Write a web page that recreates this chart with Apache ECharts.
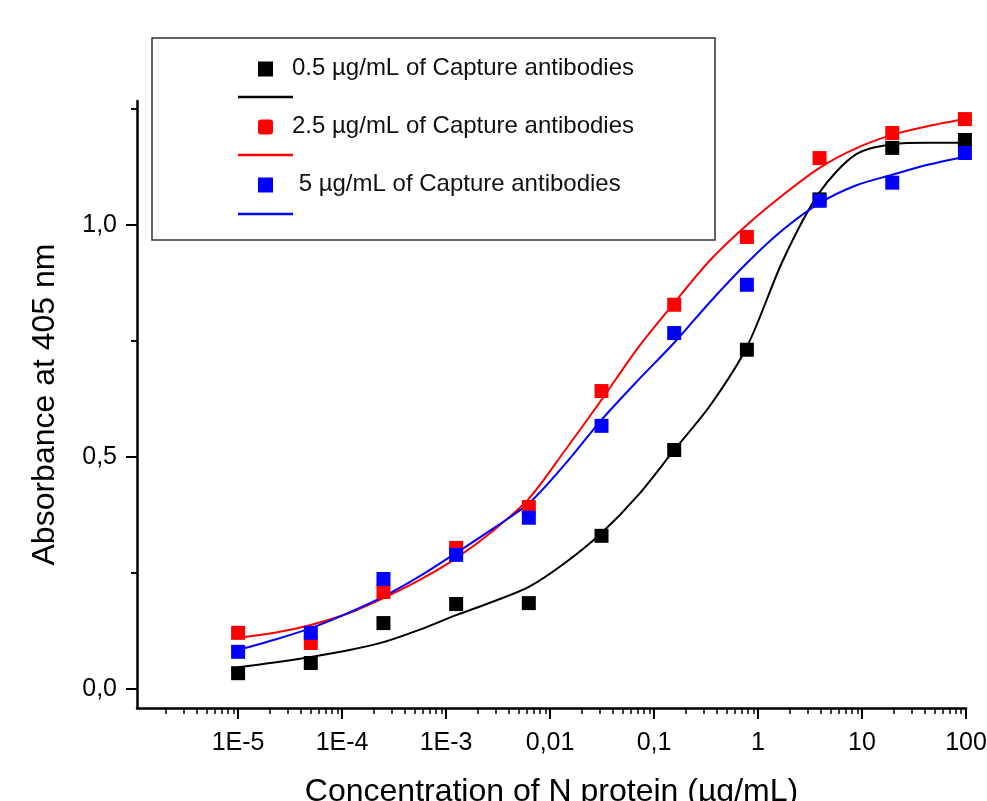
<!DOCTYPE html>
<html><head><meta charset="utf-8">
<script src="https://cdn.jsdelivr.net/npm/echarts@6/dist/echarts.min.js"></script>
<style>html,body{margin:0;padding:0;background:#fff}#c{width:987px;height:801px}</style>
</head><body><div id="c"></div>
<script>
// ---- data ----
const concentrations = [1e-5, 5e-5, 2.5e-4, 1.25e-3, 6.25e-3, 0.03125, 0.15625, 0.78125, 3.90625, 19.53125, 97.65625];
const seriesNames = ['0.5 µg/mL of Capture antibodies', '2.5 µg/mL of Capture antibodies', ' 5 µg/mL of Capture antibodies'];
const blackPoints = [0.034, 0.056, 0.142, 0.183, 0.185, 0.330, 0.515, 0.731, 1.055, 1.166, 1.183];
const redPoints   = [0.121, 0.099, 0.209, 0.304, 0.392, 0.642, 0.828, 0.974, 1.144, 1.198, 1.228];
const bluePoints  = [0.080, 0.121, 0.237, 0.289, 0.369, 0.567, 0.767, 0.871, 1.052, 1.091, 1.155];

const fitX = [1e-5, 2.24e-5, 5e-5, 1.12e-4, 2.5e-4, 5.59e-4, 1.25e-3, 2.8e-3, 6.25e-3, 0.014, 0.03125, 0.07, 0.15625, 0.349, 0.78125, 1.747, 3.90625, 8.73, 19.53125, 43.7, 97.65625];
const blackFitY = [0.047, 0.057, 0.069, 0.083, 0.101, 0.128, 0.159, 0.188, 0.220, 0.272, 0.336, 0.417, 0.515, 0.612, 0.737, 0.925, 1.070, 1.152, 1.174, 1.177, 1.177];
const redFitY   = [0.110, 0.121, 0.138, 0.162, 0.196, 0.235, 0.282, 0.340, 0.410, 0.515, 0.623, 0.735, 0.832, 0.925, 1.000, 1.065, 1.123, 1.165, 1.194, 1.213, 1.228];
const blueFitY  = [0.084, 0.106, 0.131, 0.163, 0.199, 0.243, 0.293, 0.345, 0.400, 0.485, 0.580, 0.665, 0.746, 0.835, 0.918, 0.990, 1.047, 1.085, 1.108, 1.130, 1.147];

const xTickValues = [1e-5, 1e-4, 1e-3, 0.01, 0.1, 1, 10, 100];
const xTickLabels = ['1E-5', '1E-4', '1E-3', '0,01', '0,1', '1', '10', '100'];
const yTickValues = [0, 0.5, 1.0];
const yTickLabels = ['0,0', '0,5', '1,0'];
const yMinorTicks = [0.25, 0.75, 1.25];
const xTitle = 'Concentration of N protein (µg/mL)';
const yTitle = 'Absorbance at 405 nm';

// ---- helpers ----
const xMinorTicks = [];
for (let e = -6; e < 2; e++) for (let m = 2; m <= 9; m++) xMinorTicks.push(m * Math.pow(10, e));
const pairs = (xs, ys) => xs.map((x, i) => [x, ys[i]]);
const FONT = "'Liberation Sans', Arial, sans-serif";
const colors = ['#000000', '#ff0000', '#0000ff'];
const X_MIN = 1.066e-6, X_MAX = 100, Y_MIN = -0.041, Y_MAX = 1.267;

function xLabel(v) {
  for (let i = 0; i < xTickValues.length; i++) {
    if (Math.abs(v - xTickValues[i]) / xTickValues[i] < 1e-6) return xTickLabels[i];
  }
  return '';
}
function yLabel(v) {
  for (let i = 0; i < yTickValues.length; i++) if (Math.abs(v - yTickValues[i]) < 1e-6) return yTickLabels[i];
  return '';
}

const chart = echarts.init(document.getElementById('c'), null, { renderer: 'canvas' });

const fits = [pairs(fitX, blackFitY), pairs(fitX, redFitY), pairs(fitX, blueFitY)];
const pts = [blackPoints, redPoints, bluePoints].map(p => pairs(concentrations, p));

const series = [];
fits.forEach((d, i) => series.push({
  type: 'line', data: d, smooth: 0.3, showSymbol: false, symbol: 'none',
  lineStyle: { color: colors[i], width: 2 }, z: 2, silent: true
}));
pts.forEach((d, i) => series.push({
  type: 'scatter', data: d, symbol: 'rect', symbolSize: 14,
  itemStyle: { color: colors[i], opacity: 1 }, z: 3, silent: true
}));

// legend drawn as graphic elements
const legendY = [69, 127, 185];
const legendLineY = [97, 155, 214];
const graphic = [{
  type: 'rect', shape: { x: 152, y: 38, width: 563, height: 202 },
  style: { fill: '#fff', stroke: '#333', lineWidth: 1.5 }, z: 10
}];
seriesNames.forEach((name, i) => {
  graphic.push({ type: 'rect', shape: { x: 258, y: legendY[i] - 7.5, width: 15, height: 15, r: i === 1 ? 3 : 0 },
    style: { fill: colors[i] }, z: 11 });
  graphic.push({ type: 'line', shape: { x1: 238, y1: legendLineY[i], x2: 293, y2: legendLineY[i] },
    style: { stroke: colors[i], lineWidth: 2.5 }, z: 11 });
  graphic.push({ type: 'text', x: 292, y: legendY[i] - 1,
    style: { text: name, fontSize: 24, fontFamily: FONT, fill: '#111', verticalAlign: 'middle', textAlign: 'left' }, z: 11 });
});

chart.setOption({
  animation: false,
  backgroundColor: '#fff',
  grid: { left: 137, right: 21, top: 101, bottom: 93, containLabel: false, outerBoundsMode: 'none' },
  xAxis: [{
    type: 'log', min: X_MIN, max: X_MAX, logBase: 10,
    name: xTitle, nameLocation: 'middle', nameGap: 68,
    nameTextStyle: { fontSize: 32, fontFamily: FONT, color: '#000' },
    axisLine: { show: true, onZero: false, lineStyle: { color: '#000', width: 2.5 } },
    axisTick: { show: true, inside: false, length: 11, customValues: xTickValues, lineStyle: { color: '#000', width: 2 } },
    axisLabel: { show: true, customValues: xTickValues, formatter: xLabel, margin: 23, fontSize: 25, fontFamily: FONT, color: '#000' },
    splitLine: { show: false }, minorTick: { show: false }
  }, {
    type: 'log', min: X_MIN, max: X_MAX, logBase: 10, position: 'bottom',
    axisLine: { show: false, onZero: false },
    axisTick: { show: true, inside: false, length: 6, customValues: xMinorTicks, lineStyle: { color: '#000', width: 1.5 } },
    axisLabel: { show: false }, splitLine: { show: false }
  }],
  yAxis: [{
    type: 'value', min: Y_MIN, max: Y_MAX,
    name: yTitle, nameLocation: 'middle', nameGap: 76, nameRotate: 90,
    nameTextStyle: { fontSize: 32, fontFamily: FONT, color: '#000' },
    axisLine: { show: true, onZero: false, lineStyle: { color: '#000', width: 2.5 } },
    axisTick: { show: true, inside: false, length: 11, customValues: yTickValues, lineStyle: { color: '#000', width: 2 } },
    axisLabel: { show: true, customValues: yTickValues, formatter: yLabel, margin: 20, fontSize: 25, fontFamily: FONT, color: '#000' },
    splitLine: { show: false }
  }, {
    type: 'value', min: Y_MIN, max: Y_MAX, position: 'left',
    axisLine: { show: false, onZero: false },
    axisTick: { show: true, inside: false, length: 6, customValues: yMinorTicks, lineStyle: { color: '#000', width: 2 } },
    axisLabel: { show: false }, splitLine: { show: false }
  }],
  series: series,
  graphic: graphic
});
</script>
</body></html>
